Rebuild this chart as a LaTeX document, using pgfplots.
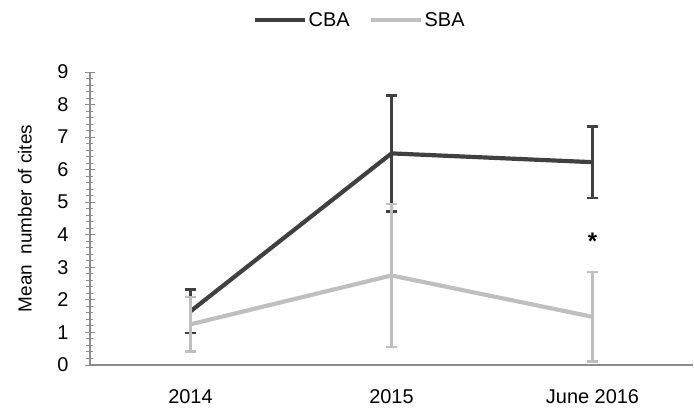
\documentclass[border=0pt]{standalone}
\usepackage{fontspec}
\setmainfont{Liberation Sans}
\usepackage{pgfplots}
\pgfplotsset{compat=1.18}
\definecolor{cba}{HTML}{404040}
\definecolor{sba}{HTML}{BFBFBF}
\definecolor{axgray}{HTML}{8C8C8C}
\begin{document}
\begin{tikzpicture}
\begin{axis}[
  scale only axis,
  width=603bp, height=293bp,
  xmin=-0.5, xmax=2.5, ymin=0, ymax=9,
  axis x line=bottom, axis y line=left,
  axis line style={draw=axgray, line width=1.2pt, -},
  xtick={0,1,2},
  xticklabels={2014,2015,June 2016},
  x tick style={draw=none},
  extra x ticks={0.5,1.5},
  extra x tick labels={},
  extra x tick style={tick align=outside, major tick length=6bp, tick style={draw=axgray, line width=1pt}},
  ytick={0,1,...,9},
  minor y tick num=4,
  y tick style={draw=axgray, line width=1pt},
  tick align=center,
  major tick length=10bp, minor tick length=7bp,
  font=\fontsize{20}{24}\selectfont,
  tick label style={font=\fontsize{20}{24}\selectfont},
  /pgf/number format/assume math mode=true,
  xticklabel style={yshift=-16bp},
  yticklabel style={xshift=-13bp},
  ylabel={Mean\ \ number of cites},
  every axis y label/.style={at={(axis description cs:-0.108,0.5)}, rotate=90, anchor=center,
    font=\fontsize{19}{22}\selectfont},
  legend style={at={(0.448,1.0)}, anchor=south, yshift=40bp, draw=none, fill=none,
    legend columns=2, font=\fontsize{20}{24}\selectfont,
    /tikz/every even column/.append style={column sep=18bp}},
  legend image code/.code={\draw[#1, line width=3.4pt] (0cm,0cm) -- (1.75cm,0cm);},
  clip=false,
]
\addplot[cba, line width=4.2pt, error bars/.cd, y dir=both, y explicit,
  error mark=-, error mark options={cba, line width=2.6pt, mark size=5.8bp, rotate=90},
  error bar style={cba, line width=2.6pt}]
  coordinates {(0,1.65) +- (0,0.67) (1,6.50) +- (0,1.78) (2,6.23) +- (0,1.10)};
\addlegendentry{CBA}
\addplot[sba, line width=4.2pt, error bars/.cd, y dir=both, y explicit,
  error mark=-, error mark options={sba, line width=2.6pt, mark size=5.8bp, rotate=90},
  error bar style={sba, line width=2.6pt}]
  coordinates {(0,1.25) +- (0,0.84) (1,2.75) +- (0,2.20) (2,1.48) +- (0,1.38)};
\addlegendentry{SBA}
\node[font=\bfseries\fontsize{24}{24}\selectfont] at (axis cs:2,3.8) {*};
\end{axis}
\pgfresetboundingbox
\path (-90bp,-46bp) rectangle (604bp,365bp);
\end{tikzpicture}
\end{document}
